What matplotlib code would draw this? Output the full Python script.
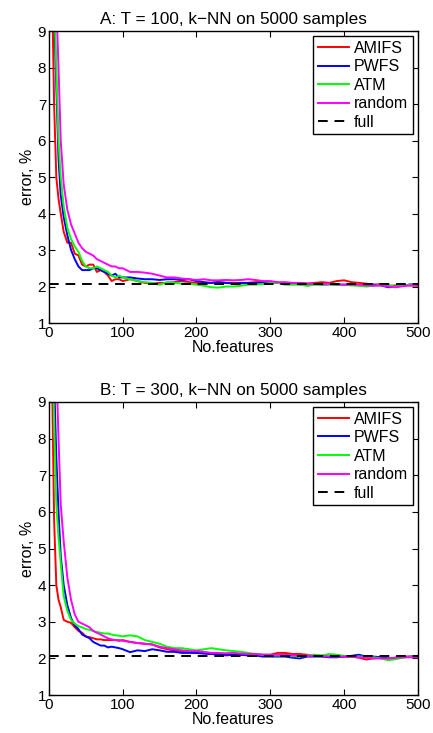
import matplotlib
matplotlib.use('Agg')
import matplotlib.pyplot as plt

plt.rcParams['font.family'] = ['Liberation Sans', 'DejaVu Sans']
plt.rcParams['font.size'] = 11

# number of selected features
xs = [1, 4, 7, 10, 13, 16, 20, 25, 30, 35, 40, 45, 50, 55, 60, 65, 70, 75, 80, 85, 90, 95, 100,
      110, 120, 130, 140, 150, 160, 170, 180, 190, 200, 210, 220, 230, 240, 250, 260, 270, 280,
      290, 300, 310, 320, 330, 340, 350, 360, 370, 380, 390, 400, 410, 420, 430, 440, 450, 460,
      470, 480, 490, 500]

# panel A: T = 100
a_amifs = [16, 10.5, 7.0, 5.0, 4.4, 4.0, 3.5, 3.2, 3.2, 2.9, 2.85, 2.6, 2.55, 2.6, 2.6, 2.4, 2.45,
           2.4, 2.3, 2.15, 2.2, 2.2, 2.15,
           2.2, 2.15, 2.1, 2.08, 2.1, 2.1, 2.12, 2.15, 2.12, 2.1, 2.08, 2.1, 2.12, 2.1, 2.1, 2.08,
           2.1, 2.12, 2.13, 2.12, 2.1, 2.1, 2.08, 2.1, 2.08, 2.1, 2.12, 2.1, 2.15, 2.17, 2.12, 2.1,
           2.08, 2.05, 2.07, 2.02, 2.03, 2.05, 2.03, 2.02]
a_pwfs = [18, 12, 9.5, 7.5, 5.5, 4.5, 3.9, 3.4, 3.0, 2.75, 2.55, 2.45, 2.45, 2.45, 2.5, 2.5, 2.45,
          2.4, 2.35, 2.3, 2.35, 2.25, 2.25,
          2.25, 2.22, 2.2, 2.2, 2.18, 2.2, 2.2, 2.18, 2.2, 2.15, 2.12, 2.1, 2.12, 2.1, 2.08, 2.1,
          2.1, 2.1, 2.1, 2.12, 2.1, 2.08, 2.08, 2.06, 2.03, 2.07, 2.05, 2.06, 2.05, 2.05, 2.05,
          2.04, 2.04, 2.05, 2.03, 1.98, 2.0, 2.02, 2.06, 2.05]
a_atm = [19, 13, 10, 8.0, 6.0, 5.0, 4.2, 3.6, 3.3, 3.1, 2.95, 2.7, 2.55, 2.5, 2.5, 2.55, 2.5,
         2.45, 2.4, 2.3, 2.25, 2.3, 2.25,
         2.2, 2.15, 2.12, 2.1, 2.05, 2.12, 2.1, 2.08, 2.08, 2.05, 2.02, 1.98, 1.97, 2.0, 2.0, 2.02,
         2.05, 2.05, 2.07, 2.1, 2.1, 2.05, 2.05, 2.05, 2.02, 2.05, 2.05, 2.06, 2.05, 2.05, 2.03,
         2.02, 2.0, 2.02, 2.05, 2.03, 2.0, 2.03, 2.05, 2.05]
a_random = [22, 16, 12, 9.8, 8.0, 6.0, 4.8, 4.1, 3.7, 3.45, 3.2, 3.05, 2.95, 2.9, 2.85, 2.75, 2.7,
            2.65, 2.6, 2.55, 2.55, 2.5, 2.5,
            2.4, 2.4, 2.38, 2.35, 2.3, 2.25, 2.25, 2.22, 2.2, 2.18, 2.2, 2.17, 2.17, 2.18, 2.17,
            2.18, 2.2, 2.18, 2.15, 2.15, 2.12, 2.12, 2.1, 2.1, 2.08, 2.08, 2.07, 2.08, 2.06, 2.05,
            2.05, 2.05, 2.03, 2.02, 2.03, 2.0, 1.98, 2.01, 2.03, 2.03]

# panel B: T = 300
b_amifs = [15, 10, 5.8, 4.0, 3.6, 3.4, 3.05, 3.0, 2.97, 2.85, 2.75, 2.7, 2.6, 2.58, 2.55, 2.52,
           2.52, 2.5, 2.5, 2.5, 2.5, 2.48, 2.5,
           2.45, 2.42, 2.4, 2.38, 2.3, 2.25, 2.22, 2.2, 2.18, 2.15, 2.15, 2.12, 2.1, 2.08, 2.1,
           2.1, 2.1, 2.1, 2.1, 2.1, 2.15, 2.15, 2.12, 2.12, 2.1, 2.08, 2.07, 2.05, 2.06, 2.05,
           2.05, 2.02, 1.97, 2.0, 2.02, 1.99, 2.02, 2.05, 2.05, 2.05]
b_pwfs = [18, 12, 9.6, 7.5, 6.0, 4.8, 4.0, 3.45, 3.1, 2.9, 2.8, 2.65, 2.6, 2.55, 2.45, 2.4, 2.35,
          2.35, 2.3, 2.32, 2.3, 2.28, 2.25,
          2.17, 2.22, 2.2, 2.25, 2.22, 2.18, 2.18, 2.15, 2.15, 2.15, 2.13, 2.12, 2.12, 2.1, 2.1,
          2.1, 2.08, 2.08, 2.05, 2.05, 2.05, 2.05, 2.02, 2.0, 2.05, 2.05, 2.05, 2.03, 2.03, 2.05,
          2.07, 2.1, 2.05, 2.05, 2.03, 2.0, 2.0, 2.03, 2.05, 2.05]
b_atm = [16, 11, 8.5, 6.2, 5.3, 4.6, 3.7, 3.3, 3.05, 2.95, 2.88, 2.85, 2.8, 2.78, 2.75, 2.72, 2.7,
         2.68, 2.68, 2.65, 2.63, 2.62, 2.6,
         2.63, 2.6, 2.5, 2.45, 2.4, 2.32, 2.28, 2.28, 2.25, 2.22, 2.25, 2.28, 2.25, 2.22, 2.2,
         2.18, 2.15, 2.12, 2.1, 2.08, 2.08, 2.07, 2.06, 2.05, 2.08, 2.1, 2.08, 2.12, 2.1, 2.07,
         2.05, 2.05, 2.05, 2.03, 2.0, 1.95, 1.98, 2.02, 2.05, 2.07]
b_random = [22, 16, 12, 10, 8.0, 6.2, 5.2, 4.2, 3.6, 3.2, 3.0, 2.95, 2.9, 2.85, 2.75, 2.7, 2.65,
            2.6, 2.55, 2.52, 2.5, 2.5, 2.48,
            2.45, 2.42, 2.4, 2.38, 2.32, 2.28, 2.25, 2.22, 2.2, 2.2, 2.18, 2.15, 2.15, 2.14, 2.15,
            2.13, 2.12, 2.12, 2.1, 2.1, 2.1, 2.1, 2.08, 2.08, 2.07, 2.07, 2.06, 2.05, 2.05, 2.05,
            2.04, 2.03, 2.02, 2.0, 2.0, 2.0, 2.02, 2.03, 2.03, 2.03]

full_error = 2.07

labels = ['AMIFS', 'PWFS', 'ATM', 'random', 'full']
colors = ['#ff0000', '#0000ff', '#00ff00', '#ff00ff']

panels = [
    ('A: T = 100, k\u2212NN on 5000 samples', [a_amifs, a_pwfs, a_atm, a_random]),
    ('B: T = 300, k\u2212NN on 5000 samples', [b_amifs, b_pwfs, b_atm, b_random]),
]
positions = [[0.113, 0.5593, 0.852, 0.3984], [0.113, 0.0518, 0.852, 0.3998]]

fig = plt.figure(figsize=(4.33, 7.33), dpi=100)

for (title, series), pos in zip(panels, positions):
    ax = fig.add_axes(pos)
    for ys, c, lab in zip(series, colors, labels):
        ax.plot(xs, ys, color=c, lw=1.4, label=lab)
    ax.plot([0, 500], [full_error, full_error], color='black', lw=1.4,
            linestyle=(0, (5, 3.5)), label='full')
    ax.set_xlim(0, 500)
    ax.set_ylim(1, 9)
    ax.set_xticks(range(0, 501, 100))
    ax.set_yticks(range(1, 10))
    ax.tick_params(direction='in', top=True, right=True, length=4, width=0.8, pad=2)
    for s in ax.spines.values():
        s.set_linewidth(1.0)
    ax.set_title(title, fontsize=12.3, pad=5)
    ax.set_xlabel('No.features', fontsize=11.5, labelpad=0)
    ax.set_ylabel('error, %', fontsize=11.5, labelpad=2)
    leg = ax.legend(loc='upper right', fancybox=False, framealpha=1, edgecolor='black',
                    fontsize=11.5, handlelength=1.9, handletextpad=0.35, labelspacing=0.22,
                    borderpad=0.3, borderaxespad=0.3)
    leg.get_frame().set_linewidth(1.0)

fig.savefig('out.png', dpi=100)
